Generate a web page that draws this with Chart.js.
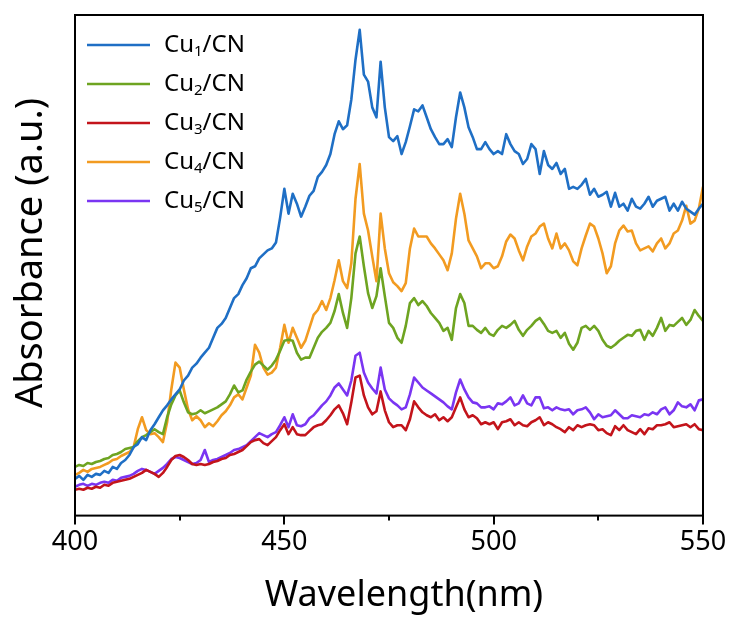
<!DOCTYPE html>
<html>
<head>
	<title>Cu/CN absorbance spectra</title>
	<meta charset="utf-8" />

	<!-- Chart.js -->
	<script src="https://cdn.jsdelivr.net/npm/chart.js@4.4.1/dist/chart.umd.min.js"></script>

	<style>
		html, body { margin: 0; padding: 0; background: #fff; }
	</style>
</head>
<body>

<canvas id="absChart" width="732" height="619"></canvas>

<script type="text/javascript">
// wavelength grid, 1 nm step
var wlStart = 400;
var wlEnd = 550;
var xMajorTicks = [400, 450, 500, 550];
var xMinorTicks = [425, 475, 525];

var xTitle = 'Wavelength(nm)';
var yTitle = 'Absorbance (a.u.)';

// legend text: Cu<sub>n</sub>/CN
var labelBase = 'Cu';
var labelSubs = ['1', '2', '3', '4', '5'];
var labelTail = '/CN';
var lineColors = ['#1f6fc5', '#6ea421', '#c3141b', '#f29b21', '#7a35f2'];

// absorbance (a.u.), 400 -> 550 nm
var cu1 = [
	37,40,36,41,39,42,41,45,43,49,
	47,53,56,61,69,72,79,76,86,92,
	99,106,111,117,122,127,136,141,149,153,
	159,164,169,179,189,193,199,209,219,223,
	232,239,249,251,259,263,267,269,275,300,
	329,304,324,314,301,311,322,327,341,346,
	353,364,384,397,389,393,419,459,489,444,
	437,411,401,457,411,381,377,382,364,376,
	392,409,407,413,401,389,381,374,374,379,
	371,401,426,411,391,381,369,369,376,369,
	364,367,364,384,374,367,364,354,359,374,
	369,344,367,353,349,355,344,349,329,331,
	329,333,339,323,329,321,323,326,311,325,
	311,314,307,319,311,309,314,321,311,317,
	319,321,307,314,307,316,309,306,303,309,
	314
];
var cu2 = [
	49,51,50,53,52,54,55,57,58,61,
	62,64,67,68,69,75,79,81,84,87,
	84,82,99,112,121,126,114,104,102,103,
	106,103,105,107,109,112,115,122,131,124,
	126,137,145,152,155,151,147,151,157,166,
	176,177,176,164,157,159,159,169,179,185,
	189,194,206,223,204,189,219,264,281,251,
	224,209,221,249,221,194,189,179,174,191,
	214,219,212,216,211,204,199,194,186,189,
	177,209,223,214,191,191,187,184,189,183,
	181,187,191,189,192,196,187,181,187,191,
	196,199,193,186,184,186,179,184,173,167,
	174,189,191,187,191,186,177,171,169,172,
	176,179,182,181,186,187,177,186,181,189,
	199,186,192,191,195,199,192,197,207,201,
	196
];
var cu3 = [
	26,27,26,28,27,29,28,31,30,33,
	34,35,36,37,39,41,43,46,44,42,
	39,43,49,56,60,61,59,56,52,51,
	52,51,52,54,55,57,58,61,62,64,
	66,70,74,76,77,73,71,75,79,86,
	92,82,89,82,81,81,85,89,91,92,
	96,101,107,111,103,92,114,139,141,121,
	109,102,105,125,106,94,89,91,91,86,
	97,115,109,104,101,99,102,96,99,95,
	99,109,119,107,99,101,98,92,94,92,
	94,87,94,95,97,91,94,91,90,94,
	96,99,91,94,92,89,87,84,89,86,
	91,89,91,92,91,86,87,83,81,90,
	86,91,86,84,82,87,82,88,87,91,
	91,92,94,89,90,91,92,89,92,87,
	86
];
var cu4 = [
	41,43,46,44,47,48,49,51,53,56,
	57,60,62,64,69,87,99,86,82,83,
	79,74,94,127,154,149,127,107,96,100,
	96,89,93,90,95,101,105,111,119,122,
	117,129,141,172,164,149,142,144,149,169,
	192,174,189,179,169,176,189,202,207,216,
	207,219,237,257,236,229,254,319,354,304,
	287,261,236,304,269,244,235,231,226,234,
	269,289,281,281,281,274,269,263,257,247,
	264,299,324,304,277,269,261,249,254,254,
	249,251,261,276,283,279,267,257,271,281,
	284,291,294,279,269,284,269,274,267,256,
	252,269,282,294,291,279,264,244,251,274,
	287,292,286,287,274,267,269,271,266,274,
	279,269,274,284,287,297,312,294,297,309,
	331
];
var cu5 = [
	29,31,32,30,32,31,33,34,33,36,
	35,38,39,40,42,45,47,46,44,42,
	45,48,52,57,59,58,56,54,52,53,
	56,66,54,56,57,59,61,63,66,67,
	69,71,75,79,83,81,79,82,84,91,
	99,89,102,91,90,92,98,101,106,111,
	115,121,129,133,127,121,136,161,164,144,
	134,128,123,149,127,118,114,111,107,109,
	122,139,134,129,126,123,120,117,114,110,
	107,124,137,127,119,114,113,109,109,110,
	107,113,112,115,119,111,113,121,113,111,
	119,119,108,109,106,109,107,106,107,102,
	106,107,109,104,97,102,99,100,101,106,
	102,98,98,101,100,99,102,101,104,102,
	107,109,102,106,114,110,109,112,106,116,
	117
];
var yMin = 0;
var yMax = 504;

var fontFamily = "'Noto Sans', 'Open Sans', sans-serif";

function toPoints(values) {
	return values.map(function (v, i) { return { x: wlStart + i, y: v }; });
}

var allSeries = [cu1, cu2, cu3, cu4, cu5];
var datasets = allSeries.map(function (values, i) {
	return {
		label: labelBase + labelSubs[i] + labelTail,
		data: toPoints(values),
		borderColor: lineColors[i],
		backgroundColor: lineColors[i],
		borderWidth: 2.6,
		pointRadius: 0,
		tension: 0,
		borderJoinStyle: 'round'
	};
});

// box frame, ticks, axis titles and the legend with subscripts
var framePlugin = {
	id: 'frameAndLegend',
	afterDatasetsDraw: function (chart) {
		var ctx = chart.ctx;
		var area = chart.chartArea;
		var xs = chart.scales.x;
		ctx.save();
		ctx.strokeStyle = '#000';
		ctx.lineWidth = 2;
		ctx.strokeRect(area.left, area.top, area.right - area.left, area.bottom - area.top);

		ctx.beginPath();
		xMajorTicks.forEach(function (v) {
			var px = Math.round(xs.getPixelForValue(v));
			ctx.moveTo(px, area.bottom);
			ctx.lineTo(px, area.bottom + 9);
		});
		xMinorTicks.forEach(function (v) {
			var px = Math.round(xs.getPixelForValue(v));
			ctx.moveTo(px, area.bottom);
			ctx.lineTo(px, area.bottom + 5);
		});
		ctx.stroke();

		// axis titles
		ctx.fillStyle = '#000';
		ctx.textAlign = 'center';
		ctx.textBaseline = 'middle';
		ctx.font = '36px ' + fontFamily;
		ctx.fillText(xTitle, 404, 596);
		ctx.save();
		ctx.translate(31, 253);
		ctx.rotate(-Math.PI / 2);
		ctx.font = '38px ' + fontFamily;
		ctx.fillText(yTitle, 0, 0);
		ctx.restore();

		// legend
		var lx = 87, ly = 45, gap = 39;
		chart.data.datasets.forEach(function (ds, i) {
			var y = ly + i * gap;
			ctx.strokeStyle = ds.borderColor;
			ctx.lineWidth = 2.5;
			ctx.beginPath();
			ctx.moveTo(lx, y);
			ctx.lineTo(lx + 63, y);
			ctx.stroke();

			ctx.fillStyle = '#000';
			ctx.textBaseline = 'middle';
			ctx.textAlign = 'left';
			var tx = lx + 77;
			ctx.font = '24px ' + fontFamily;
			ctx.fillText(labelBase, tx, y);
			tx += ctx.measureText(labelBase).width;
			ctx.font = '15px ' + fontFamily;
			ctx.fillText(labelSubs[i], tx, y + 7);
			tx += ctx.measureText(labelSubs[i]).width;
			ctx.font = '24px ' + fontFamily;
			ctx.fillText(labelTail, tx, y);
		});
		ctx.restore();
	}
};

var chart = new Chart(document.getElementById('absChart').getContext('2d'), {
	type: 'line',
	data: { datasets: datasets },
	plugins: [framePlugin],
	options: {
		responsive: false,
		animation: false,
		devicePixelRatio: 1,
		layout: { padding: { left: 75, right: 29, top: 15, bottom: 57 } },
		plugins: {
			legend: { display: false },
			tooltip: { enabled: false }
		},
		scales: {
			x: {
				type: 'linear',
				min: wlStart,
				max: wlEnd,
				afterBuildTicks: function (scale) {
					scale.ticks = xMajorTicks.map(function (v) { return { value: v }; });
				},
				ticks: {
					autoSkip: false,
					maxRotation: 0,
					padding: 3,
					color: '#000',
					font: { family: fontFamily, size: 27 }
				},
				grid: {
					drawOnChartArea: false,
					drawTicks: true,
					tickLength: 8,
					tickColor: 'rgba(0,0,0,0)'
				},
				border: { display: false }
			},
			y: {
				min: yMin,
				max: yMax,
				ticks: { display: false },
				grid: { display: false, drawTicks: false },
				border: { display: false }
			}
		}
	}
});
</script>
</body>
</html>
